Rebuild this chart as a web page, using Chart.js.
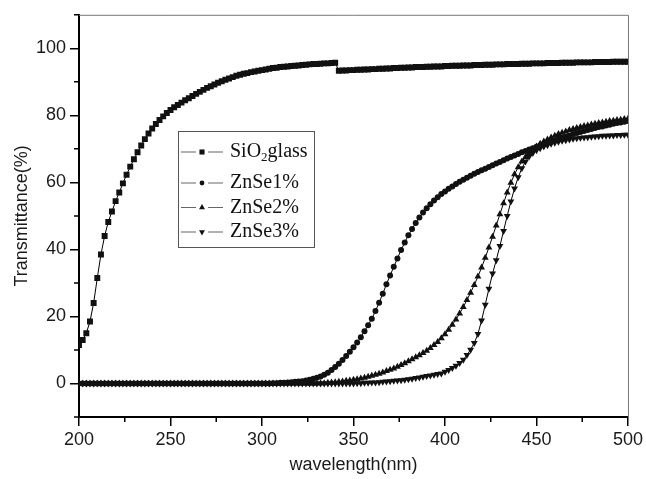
<!DOCTYPE html>
<html>
<head>
<meta charset="utf-8">
<script src="https://cdn.jsdelivr.net/npm/chart.js@4.4.1/dist/chart.umd.min.js"></script>
<style>
  html, body { margin: 0; padding: 0; background: #fff; }
  #wrap { width: 646px; height: 479px; }
</style>
</head>
<body>
<div id="wrap"><canvas id="chart" width="646" height="479"></canvas></div>
<script>
// wavelength (nm), one point every 2 nm
const wavelengths = [
  200, 202, 204, 206, 208, 210, 212, 214, 216, 218,
  220, 222, 224, 226, 228, 230, 232, 234, 236, 238,
  240, 242, 244, 246, 248, 250, 252, 254, 256, 258,
  260, 262, 264, 266, 268, 270, 272, 274, 276, 278,
  280, 282, 284, 286, 288, 290, 292, 294, 296, 298,
  300, 302, 304, 306, 308, 310, 312, 314, 316, 318,
  320, 322, 324, 326, 328, 330, 332, 334, 336, 338,
  340, 342, 344, 346, 348, 350, 352, 354, 356, 358,
  360, 362, 364, 366, 368, 370, 372, 374, 376, 378,
  380, 382, 384, 386, 388, 390, 392, 394, 396, 398,
  400, 402, 404, 406, 408, 410, 412, 414, 416, 418,
  420, 422, 424, 426, 428, 430, 432, 434, 436, 438,
  440, 442, 444, 446, 448, 450, 452, 454, 456, 458,
  460, 462, 464, 466, 468, 470, 472, 474, 476, 478,
  480, 482, 484, 486, 488, 490, 492, 494, 496, 498,
  500
];

// transmittance (%)
const sio2Glass = [
  11.5, 13, 15, 18.5, 24, 31.5, 38.5, 44, 48.2, 51.3,
  54.4, 57, 59.7, 62.3, 64.7, 66.9, 69, 71, 72.9, 74.6,
  76.1, 77.4, 78.6, 79.7, 80.7, 81.6, 82.4, 83.1, 83.8, 84.5,
  85.1, 85.8, 86.4, 87, 87.6, 88.2, 88.7, 89.2, 89.7, 90.2,
  90.6, 91, 91.4, 91.8, 92.1, 92.4, 92.6, 92.9, 93.1, 93.3,
  93.5, 93.7, 93.9, 94.1, 94.2, 94.4, 94.5, 94.6, 94.7, 94.8,
  94.9, 95.0, 95.1, 95.2, 95.3, 95.3, 95.4, 95.5, 95.5, 95.6,
  95.7, 93.3, 93.4, 93.4, 93.5, 93.5, 93.6, 93.6, 93.7, 93.7,
  93.8, 93.8, 93.9, 93.9, 94.0, 94.0, 94.1, 94.1, 94.2, 94.2,
  94.3, 94.3, 94.4, 94.4, 94.4, 94.5, 94.5, 94.6, 94.6, 94.6,
  94.7, 94.7, 94.8, 94.8, 94.8, 94.9, 94.9, 94.9, 95.0, 95.0,
  95.0, 95.1, 95.1, 95.1, 95.2, 95.2, 95.2, 95.3, 95.3, 95.3,
  95.3, 95.4, 95.4, 95.4, 95.5, 95.5, 95.5, 95.5, 95.6, 95.6,
  95.6, 95.6, 95.7, 95.7, 95.7, 95.7, 95.8, 95.8, 95.8, 95.8,
  95.8, 95.9, 95.9, 95.9, 95.9, 95.9, 96.0, 96.0, 96.0, 96.0,
  96.0
];

const znse1 = [
  0, 0, 0, 0, 0, 0, 0, 0, 0, 0,
  0, 0, 0, 0, 0, 0, 0, 0, 0, 0,
  0, 0, 0, 0, 0, 0, 0, 0, 0, 0,
  0, 0, 0, 0, 0, 0, 0, 0, 0, 0,
  0, 0, 0, 0, 0, 0, 0, 0, 0, 0,
  0, 0, 0, 0.1, 0.1, 0.2, 0.2, 0.3, 0.4, 0.5,
  0.6, 0.7, 0.9, 1.1, 1.4, 1.7, 2.1, 2.6, 3.2, 4.0,
  4.9, 5.9, 7.0, 8.2, 9.5, 10.8, 12.2, 13.8, 15.6, 17.4,
  19.3, 21.6, 24.1, 26.8, 29.6, 32.2, 34.8, 37.3, 39.8, 42.1,
  44.2, 46.1, 47.9, 49.5, 51.0, 52.3, 53.5, 54.6, 55.6, 56.5,
  57.3, 58.1, 58.8, 59.5, 60.2, 60.8, 61.4, 62.0, 62.6, 63.1,
  63.6, 64.1, 64.6, 65.1, 65.6, 66.1, 66.6, 67.1, 67.6, 68.0,
  68.5, 69.0, 69.4, 69.8, 70.2, 70.6, 71.0, 71.4, 71.8, 72.2,
  72.6, 73.0, 73.4, 73.7, 74.0, 74.4, 74.7, 75.0, 75.3, 75.6,
  75.9, 76.2, 76.5, 76.7, 77.0, 77.2, 77.5, 77.7, 77.9, 78.1,
  78.3
];

const znse2 = [
  0, 0, 0, 0, 0, 0, 0, 0, 0, 0,
  0, 0, 0, 0, 0, 0, 0, 0, 0, 0,
  0, 0, 0, 0, 0, 0, 0, 0, 0, 0,
  0, 0, 0, 0, 0, 0, 0, 0, 0, 0,
  0, 0, 0, 0, 0, 0, 0, 0, 0, 0,
  0, 0, 0, 0, 0, 0, 0, 0, 0, 0,
  0, 0, 0, 0, 0, 0, 0.1, 0.1, 0.2, 0.3,
  0.4, 0.5, 0.6, 0.8, 0.9, 1.1, 1.3, 1.5, 1.7, 2.0,
  2.3, 2.6, 2.9, 3.3, 3.7, 4.1, 4.5, 5.0, 5.5, 6.0,
  6.6, 7.2, 7.8, 8.4, 9.1, 9.8, 10.6, 11.5, 12.4, 13.5,
  14.7, 16.0, 17.5, 19.1, 20.9, 22.8, 24.9, 27.1, 29.4, 31.9,
  34.6, 37.5, 40.6, 43.8, 47.1, 50.5, 53.8, 57.0, 59.9, 62.4,
  64.5, 66.2, 67.6, 68.8, 69.8, 70.7, 71.5, 72.2, 72.8, 73.4,
  73.9, 74.4, 74.8, 75.2, 75.6, 75.9, 76.2, 76.5, 76.8, 77.0,
  77.3, 77.5, 77.7, 77.9, 78.1, 78.3, 78.4, 78.6, 78.7, 78.9,
  79.0
];

const znse3 = [
  0, 0, 0, 0, 0, 0, 0, 0, 0, 0,
  0, 0, 0, 0, 0, 0, 0, 0, 0, 0,
  0, 0, 0, 0, 0, 0, 0, 0, 0, 0,
  0, 0, 0, 0, 0, 0, 0, 0, 0, 0,
  0, 0, 0, 0, 0, 0, 0, 0, 0, 0,
  0, 0, 0, 0, 0, 0, 0, 0, 0, 0,
  0, 0, 0, 0, 0, 0, 0, 0, 0, 0,
  0, 0, 0, 0, 0, 0, 0.1, 0.1, 0.2, 0.2,
  0.3, 0.3, 0.4, 0.5, 0.6, 0.7, 0.8, 0.9, 1.0, 1.1,
  1.3, 1.4, 1.6, 1.8, 2.0, 2.2, 2.4, 2.6, 2.8, 3.0,
  3.5, 4.0, 4.6, 5.3, 6.1, 7.1, 8.5, 10.1, 12.1, 14.8,
  18.8, 23.5, 28.3, 32.8, 36.8, 41.0, 45.5, 50.0, 54.3, 58.2,
  61.5, 64.2, 66.2, 67.7, 68.8, 69.6, 70.2, 70.7, 71.1, 71.5,
  71.8, 72.1, 72.4, 72.6, 72.8, 73.0, 73.2, 73.3, 73.4, 73.5,
  73.6, 73.7, 73.8, 73.9, 73.9, 74.0, 74.0, 74.1, 74.1, 74.2,
  74.2
];

const xTicks = [200, 250, 300, 350, 400, 450, 500];
const xMinorTicks = [225, 275, 325, 375, 425, 475];
const yTicks = [0, 20, 40, 60, 80, 100];
const yMinorTicks = [-10, 10, 30, 50, 70, 90, 110];

const seriesNames = ["SiO2glass", "ZnSe1%", "ZnSe2%", "ZnSe3%"];
const seriesValues = [sio2Glass, znse1, znse2, znse3];

// marker styles per series
const markers = [
  { style: "rect", radius: 4.2, rotation: 0 },
  { style: "circle", radius: 3, rotation: 0 },
  { style: "triangle", radius: 4, rotation: 0 },
  { style: "triangle", radius: 4, rotation: 180 }
];

const tickFont = { family: "'Liberation Sans', Arial, sans-serif", size: 18 };
const textColor = "#1a1a1a";

const datasets = seriesNames.map((name, i) => ({
  label: name,
  data: wavelengths.map((w, k) => ({ x: w, y: seriesValues[i][k] })),
  borderColor: "#000",
  borderWidth: 1,
  backgroundColor: "#111",
  pointBackgroundColor: "#111",
  pointBorderWidth: 0,
  pointStyle: markers[i].style,
  pointRadius: markers[i].radius,
  pointRotation: markers[i].rotation,
  tension: 0,
  fill: false
}));

// frame (top/right), minor ticks and the boxed legend
const framePlugin = {
  id: "frame",
  afterDraw(chart) {
    const ctx = chart.ctx;
    const area = chart.chartArea;
    const xs = chart.scales.x;
    const ys = chart.scales.y;

    ctx.save();
    ctx.strokeStyle = "#777";
    ctx.lineWidth = 1;
    ctx.beginPath();
    ctx.moveTo(area.left, area.top + 0.5);
    ctx.lineTo(area.right + 0.5, area.top + 0.5);
    ctx.lineTo(area.right + 0.5, area.bottom);
    ctx.stroke();

    ctx.strokeStyle = "#000";
    ctx.lineWidth = 1.5;
    ctx.beginPath();
    xMinorTicks.forEach(v => {
      const px = xs.getPixelForValue(v);
      ctx.moveTo(px, area.bottom);
      ctx.lineTo(px, area.bottom + 5);
    });
    yMinorTicks.forEach(v => {
      const py = ys.getPixelForValue(v);
      ctx.moveTo(area.left, py);
      ctx.lineTo(area.left - 5, py);
    });
    ctx.stroke();

    // legend
    const box = { x: 178.5, y: 131.5, w: 136, h: 116 };
    const rowsY = [152, 183, 207.5, 232];
    ctx.strokeStyle = "#555";
    ctx.lineWidth = 1;
    ctx.strokeRect(box.x, box.y, box.w, box.h);

    const serif = "'Liberation Serif', 'Times New Roman', serif";
    seriesNames.forEach((name, i) => {
      const y = rowsY[i];
      ctx.strokeStyle = "#666";
      ctx.lineWidth = 1.2;
      ctx.beginPath();
      ctx.moveTo(181, y);
      ctx.lineTo(196, y);
      ctx.moveTo(208, y);
      ctx.lineTo(223, y);
      ctx.stroke();

      ctx.fillStyle = "#111";
      ctx.strokeStyle = "#111";
      Chart.helpers.drawPoint(ctx, {
        pointStyle: markers[i].style,
        radius: markers[i].radius - 0.6,
        rotation: markers[i].rotation,
        borderWidth: 0
      }, 202, y);

      ctx.fillStyle = "#111";
      ctx.textBaseline = "middle";
      ctx.textAlign = "left";
      if (i === 0) {
        ctx.font = "20px " + serif;
        let x = 230;
        ctx.fillText("SiO", x, y);
        x += ctx.measureText("SiO").width;
        ctx.font = "13px " + serif;
        ctx.fillText("2", x, y + 6);
        x += ctx.measureText("2").width;
        ctx.font = "20px " + serif;
        ctx.fillText("glass", x, y);
      } else {
        ctx.font = "20px " + serif;
        ctx.fillText(name, 230, y);
      }
    });
    ctx.restore();
  }
};

new Chart(document.getElementById("chart"), {
  type: "line",
  data: { datasets },
  options: {
    responsive: false,
    animation: false,
    devicePixelRatio: 1,
    layout: { padding: { top: 12, right: 18, left: 0, bottom: 0 } },
    plugins: { legend: { display: false }, tooltip: { enabled: false } },
    scales: {
      x: {
        type: "linear",
        min: 200,
        max: 500,
        afterBuildTicks: s => { s.ticks = xTicks.map(v => ({ value: v })); },
        afterFit: s => { s.height = 62; },
        grid: { drawOnChartArea: false, tickLength: 9, color: "#000", lineWidth: 1.5 },
        border: { color: "#000", width: 2 },
        ticks: { font: tickFont, color: textColor, padding: 3, maxRotation: 0, autoSkip: false },
        title: { display: true, text: "wavelength(nm)", font: tickFont, color: textColor, padding: { top: 0, bottom: 3 } }
      },
      y: {
        min: -10,
        max: 110,
        afterBuildTicks: s => { s.ticks = yTicks.map(v => ({ value: v })); },
        afterFit: s => { s.width = 79; },
        grid: { drawOnChartArea: false, tickLength: 9, color: "#000", lineWidth: 1.5 },
        border: { color: "#000", width: 2 },
        ticks: { font: tickFont, color: textColor, padding: 4 },
        title: { display: true, text: "Transmittance(%)", font: tickFont, color: textColor, padding: { top: 11, bottom: 0 } }
      }
    }
  },
  plugins: [framePlugin]
});
</script>
</body>
</html>
